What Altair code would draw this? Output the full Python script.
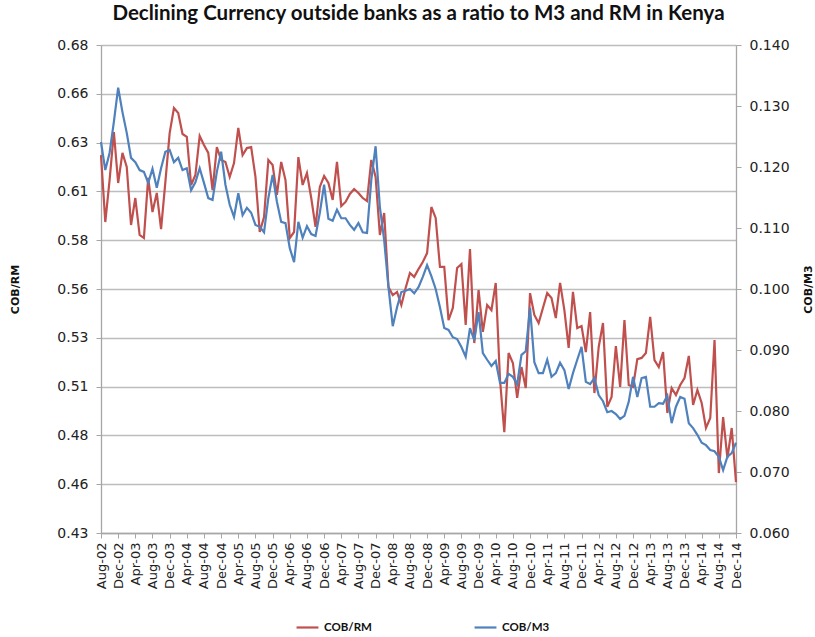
import altair as alt
import pandas as pd

# Monthly ratios, Aug-2002 .. Dec-2014
cob_rm = [
    0.6236, 0.5893, 0.6108, 0.6354, 0.6093, 0.6247, 0.6175, 0.5878, 0.6016, 0.5827,
    0.5811, 0.6119, 0.5944, 0.6042, 0.5857, 0.6098, 0.6349, 0.6477, 0.6452, 0.6344,
    0.6329, 0.6083, 0.6134, 0.6334, 0.6288, 0.6247, 0.6057, 0.6277, 0.6211, 0.6201,
    0.6124, 0.6195, 0.6375, 0.6236, 0.6272, 0.6277, 0.6124, 0.5842, 0.5919, 0.6211,
    0.6185, 0.6032, 0.6201, 0.6108, 0.5811, 0.5842, 0.6226, 0.6083, 0.6144, 0.6016,
    0.5868, 0.6073, 0.6129, 0.6093, 0.6006, 0.6201, 0.5975, 0.5996, 0.6037, 0.6062,
    0.6042, 0.6016, 0.6001, 0.6211, 0.6124, 0.5827, 0.5939, 0.5560, 0.5519, 0.5535,
    0.5468, 0.5555, 0.5632, 0.5612, 0.5652, 0.5688, 0.5734, 0.5970, 0.5914, 0.5663,
    0.5663, 0.5391, 0.5453, 0.5658, 0.5678, 0.5366, 0.5755, 0.5273, 0.5545, 0.5330,
    0.5468, 0.5442, 0.5581, 0.5084, 0.4817, 0.5222, 0.5171, 0.4992, 0.5150, 0.5043,
    0.5529, 0.5417, 0.5376, 0.5453, 0.5529, 0.5504, 0.5401, 0.5581, 0.5442, 0.5248,
    0.5535, 0.5350, 0.5360, 0.5227, 0.5432, 0.5017, 0.5253, 0.5376, 0.4946, 0.4997,
    0.5258, 0.5048, 0.5391, 0.5058, 0.5048, 0.5191, 0.5197, 0.5222, 0.5407, 0.5186,
    0.5150, 0.5227, 0.4915, 0.5043, 0.5007, 0.5058, 0.5094, 0.5207, 0.4956, 0.5033,
    0.4966, 0.4838, 0.4889, 0.5289, 0.4607, 0.4894, 0.4684, 0.4838, 0.4561,
]

cob_m3 = [
    0.1241, 0.1195, 0.1223, 0.1274, 0.1330, 0.1290, 0.1256, 0.1215, 0.1208, 0.1195,
    0.1192, 0.1174, 0.1197, 0.1166, 0.1198, 0.1225, 0.1228, 0.1208, 0.1215, 0.1195,
    0.1198, 0.1162, 0.1175, 0.1198, 0.1174, 0.1149, 0.1146, 0.1192, 0.1225, 0.1171,
    0.1138, 0.1118, 0.1157, 0.1121, 0.1133, 0.1125, 0.1105, 0.1102, 0.1093, 0.1149,
    0.1187, 0.1143, 0.1110, 0.1108, 0.1067, 0.1044, 0.1110, 0.1084, 0.1103, 0.1090,
    0.1087, 0.1125, 0.1171, 0.1115, 0.1112, 0.1130, 0.1116, 0.1116, 0.1105, 0.1097,
    0.1108, 0.1093, 0.1092, 0.1179, 0.1234, 0.1134, 0.1080, 0.1003, 0.0939, 0.0970,
    0.0995, 0.0997, 0.1000, 0.0993, 0.1003, 0.1020, 0.1039, 0.1021, 0.1000, 0.0970,
    0.0936, 0.0933, 0.0921, 0.0918, 0.0905, 0.0889, 0.0936, 0.0916, 0.0962, 0.0895,
    0.0884, 0.0874, 0.0882, 0.0846, 0.0846, 0.0861, 0.0856, 0.0844, 0.0892, 0.0898,
    0.0969, 0.0880, 0.0862, 0.0862, 0.0884, 0.0856, 0.0862, 0.0879, 0.0867, 0.0836,
    0.0862, 0.0884, 0.0905, 0.0848, 0.0844, 0.0854, 0.0826, 0.0816, 0.0798, 0.0800,
    0.0795, 0.0787, 0.0792, 0.0815, 0.0856, 0.0823, 0.0854, 0.0856, 0.0807, 0.0807,
    0.0813, 0.0812, 0.0825, 0.0780, 0.0807, 0.0823, 0.0820, 0.0780, 0.0772, 0.0761,
    0.0748, 0.0744, 0.0736, 0.0734, 0.0725, 0.0703, 0.0725, 0.0731, 0.0748,
]

series_names = ["COB/RM", "COB/M3"]
series_colors = ["#C0504D", "#4F81BD"]
left_ticks = [0.43, 0.455, 0.48, 0.505, 0.53, 0.555, 0.58, 0.605, 0.63, 0.655, 0.68]
right_ticks = [0.06, 0.07, 0.08, 0.09, 0.10, 0.11, 0.12, 0.13, 0.14]

months = pd.date_range("2002-08-01", periods=len(cob_rm), freq="MS")
month_labels = [d.strftime("%b-%y") for d in months]
n = len(cob_rm)

df = pd.DataFrame({
    "idx": list(range(n)),
    "month": month_labels,
    "rm": cob_rm,
    "m3": cob_m3,
})

tick_idx = list(range(0, n, 4))
label_arr = "[" + ",".join("'" + month_labels[i] + "'" for i in tick_idx) + "]"

FONT = "DejaVu Sans"
GRID = "#BDBDBD"
AXC = "#A6A6A6"

x_enc = alt.X(
    "idx:Q",
    scale=alt.Scale(domain=[0, n - 1], nice=False, zero=False),
    axis=alt.Axis(
        values=tick_idx,
        labelExpr=label_arr + "[round(datum.value/4)]",
        labelAngle=270,
        labelFont=FONT,
        labelFontSize=13,
        labelColor="#222222",
        labelPadding=4,
        grid=False,
        title=None,
        domainColor=AXC,
        domainWidth=1.3,
        tickColor=AXC,
        tickSize=5,
    ),
)

color_scale = alt.Scale(domain=series_names, range=series_colors)
legend = alt.Legend(
    title=None,
    orient="none",
    legendX=194,
    legendY=570,
    direction="horizontal",
    symbolType="stroke",
    symbolSize=480,
    symbolStrokeWidth=2.2,
    labelFont="Lato",
    labelFontSize=11.5,
    labelFontWeight="bold",
    labelColor="#111111",
    labelOffset=4,
    columnPadding=98,
)

left = alt.Chart(df).transform_calculate(series="'COB/RM'").mark_line(strokeWidth=2.2).encode(
    x=x_enc,
    y=alt.Y(
        "rm:Q",
        scale=alt.Scale(domain=[0.43, 0.68], nice=False, zero=False),
        axis=alt.Axis(
            orient="left",
            values=left_ticks,
            labelExpr="format(datum.value + 0.0001, '.2f')",
            labelFont=FONT,
            labelFontSize=14,
            labelColor="#222222",
            labelPadding=8,
            grid=True,
            gridColor=GRID,
            gridWidth=1.4,
            domainColor=AXC,
            domainWidth=1.3,
            tickColor=AXC,
            tickSize=5,
            title="COB/RM",
            titleFont=FONT,
            titleFontSize=11,
            titleFontWeight="bold",
            titleColor="#111111",
            titleAngle=270,
            titleX=-86,
            titleY=244,
            titleAlign="center",
            titleBaseline="middle",
        ),
    ),
    color=alt.Color("series:N", scale=color_scale, legend=legend),
)

right = alt.Chart(df).transform_calculate(series="'COB/M3'").mark_line(strokeWidth=2.2).encode(
    x=x_enc,
    y=alt.Y(
        "m3:Q",
        scale=alt.Scale(domain=[0.06, 0.14], nice=False, zero=False),
        axis=alt.Axis(
            orient="right",
            values=right_ticks,
            format=".3f",
            labelFont=FONT,
            labelFontSize=14,
            labelColor="#222222",
            labelPadding=8,
            grid=False,
            domainColor=AXC,
            domainWidth=1.3,
            tickColor=AXC,
            tickSize=5,
            title="COB/M3",
            titleFont=FONT,
            titleFontSize=11,
            titleFontWeight="bold",
            titleColor="#111111",
            titleAngle=270,
            titleX=72,
            titleY=244,
            titleAlign="center",
            titleBaseline="middle",
        ),
    ),
    color=alt.Color("series:N", scale=color_scale, legend=legend),
)

chart = alt.layer(left, right).resolve_scale(y="independent").properties(
    width=635,
    height=488,
    title=alt.TitleParams(
        "Declining Currency outside banks as a ratio to M3 and RM in Kenya",
        font="Lato",
        fontSize=20.5,
        fontWeight="bold",
        color="#111111",
        anchor="middle",
        offset=14,
    ),
    autosize=alt.AutoSizeParams(type="none"),
    padding={"left": 101, "top": 45, "right": 79, "bottom": 104},
    background="white",
).configure_view(stroke=None)

chart.save("out.html", embed_options={"renderer": "svg", "actions": False})
